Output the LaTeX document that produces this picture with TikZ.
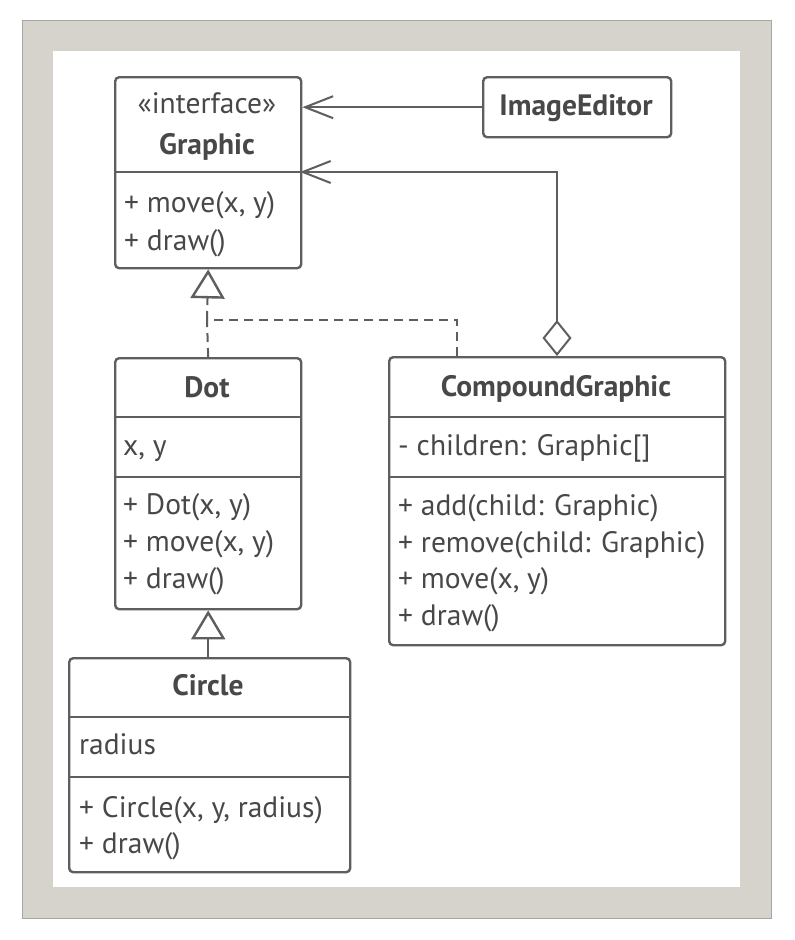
\documentclass[tikz,border=0pt]{standalone}
\usepackage{fontspec}
\setmainfont{PT Sans}
\usepackage{tikz}
\usepackage{xcolor}
\usetikzlibrary{arrows.meta}

\definecolor{frame}{HTML}{D6D3CC}
\definecolor{ink}{HTML}{5E5E5E}
\definecolor{txt}{HTML}{484848}

\begin{document}
\begin{tikzpicture}[x=1pt,y=-1pt,
  every node/.style={font=\fontsize{29.5}{36}\selectfont,text=txt},
  classbox/.style={draw=ink,line width=2.4pt,rounded corners=4pt,fill=white,anchor=north west,inner sep=0pt},
  divider/.style={draw=ink,line width=2.4pt},
  title/.style={anchor=base,inner sep=0pt,font=\fontsize{29.5}{36}\selectfont\bfseries},
  member/.style={anchor=base west,inner sep=0pt},
  link/.style={draw=ink,line width=2pt},
  assoc/.style={link,-{Straight Barb[length=28pt,width=22pt,line width=2pt]}},
  inherit/.style={link,-{Triangle[open,length=29pt,width=34pt,line width=2.4pt,fill=white]}},
  realize/.style={link,dash pattern=on 9pt off 6pt}]
\useasboundingbox (0,0) rectangle (795,940);
\fill[white] (0,0) rectangle (795,940);
\fill[frame] (22,20) rectangle (771,918);
\draw[gray!70,line width=0.8pt] (22,20) rectangle (771,918);
\fill[white] (53,51) rectangle (740,887);

% Graphic
\node[classbox,minimum width=186pt,minimum height=191pt] (graphic) at (114,76) {};
\draw[divider] (114,172) -- (300,172);
\node[member,anchor=base] (graphicst) at (207,113) {«interface»};
\node[title] (graphicn) at (207,154) {Graphic};
\node[member] (graphicm1) at (124,212) {+ move(x, y)};
\node[member] (graphicm2) at (124,250) {+ draw()};

% ImageEditor
\node[classbox,minimum width=188pt,minimum height=60pt] (editor) at (482,76) {};
\node[title] (editorn) at (576,115) {ImageEditor};

% Dot
\node[classbox,minimum width=186pt,minimum height=251pt] (dot) at (114,357) {};
\draw[divider] (114,417) -- (300,417);
\draw[divider] (114,477) -- (300,477);
\node[title] (dotn) at (207,397) {Dot};
\node[member] (dota1) at (123,455) {x, y};
\node[member] (dotm1) at (123,514) {+ Dot(x, y)};
\node[member] (dotm2) at (123,551) {+ move(x, y)};
\node[member] (dotm3) at (123,588) {+ draw()};

% CompoundGraphic
\node[classbox,minimum width=336pt,minimum height=288pt] (compound) at (388,356) {};
\draw[divider] (388,417) -- (724,417);
\draw[divider] (388,477) -- (724,477);
\node[title] (compoundn) at (556,396) {CompoundGraphic};
\node[member] (compounda1) at (398,455) {- children: Graphic[]};
\node[member] (compoundm1) at (398,515) {+ add(child: Graphic)};
\node[member] (compoundm2) at (398,552) {+ remove(child: Graphic)};
\node[member] (compoundm3) at (398,588) {+ move(x, y)};
\node[member] (compoundm4) at (398,625) {+ draw()};

% Circle
\node[classbox,minimum width=281pt,minimum height=214pt] (circle) at (68,657) {};
\draw[divider] (68,717) -- (349,717);
\draw[divider] (68,777) -- (349,777);
\node[title] (circlen) at (208,695) {Circle};
\node[member] (circlea1) at (79,754) {radius};
\node[member] (circlem1) at (79,817) {+ Circle(x, y, radius)};
\node[member] (circlem2) at (79,853) {+ draw()};

% connectors
\coordinate (gdiv) at (300,172);
\coordinate (cgtop) at (557,356);
\coordinate (cgjoin) at (457,356);
\coordinate (bend) at (207,320);
\draw[assoc] (editor.west) -- (editor.west -| graphic.east);
\draw[assoc,{Diamond[open,length=36pt,width=29pt,line width=2pt,fill=white]}-{Straight Barb[length=28pt,width=22pt,line width=2pt]}] (cgtop) |- (gdiv);
\draw[realize] (cgjoin) |- (bend);
\draw[realize] (dot.north) -- (bend);
\draw[inherit,realize] (bend) -- (graphic.south);
\draw[inherit] (circle.north -| dot.south) -- (dot.south);
\end{tikzpicture}
\end{document}
